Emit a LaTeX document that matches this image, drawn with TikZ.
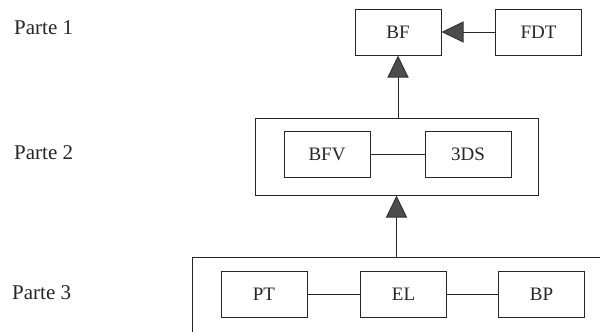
\documentclass[tikz,border=0pt]{standalone}
\usepackage{fontspec}
\setmainfont{Liberation Serif}
\usetikzlibrary{arrows.meta}
\begin{document}
\begin{tikzpicture}[x=1pt,y=-1pt,
  box/.style={draw=black!85, line width=1pt, minimum width=86pt, minimum height=46pt, inner sep=0pt, font=\fontsize{19}{19}\selectfont, text=black!85},
  frame/.style={draw=black!85, line width=1pt},
  link/.style={draw=black!85, line width=1pt},
  arr/.style={link, -{Triangle[length=22pt,width=21pt,fill=black!70,color=black!80]}},
  lab/.style={anchor=west, inner sep=0pt, font=\fontsize{21}{21}\selectfont, text=black!85}]
\useasboundingbox (0,0) rectangle (600,332);
% labels
\node[lab] (p1) at (14,28) {Parte 1};
\node[lab] (p2) at (14,153) {Parte 2};
\node[lab] (p3) at (12,293) {Parte 3};
% part 1
\node[box] (bf) at (398,32) {BF};
\node[box] (fdt) at (538.5,32) {FDT};
% part 2
\node[frame, minimum width=283pt, minimum height=77pt, inner sep=0pt] (g2) at (396.5,156.5) {};
\node[box] (bfv) at (327,154.5) {BFV};
\node[box] (tds) at (468,154.5) {3DS};
% part 3
\begin{scope}
\clip (0,0) rectangle (600,332);
\node[frame, minimum width=440pt, minimum height=120pt, inner sep=0pt, anchor=north west] (g3) at (192,257) {};
\end{scope}
\node[box] (pt) at (264,294) {PT};
\node[box] (el) at (403.5,294) {EL};
\node[box] (bp) at (541.5,294) {BP};
% connectors
\draw[arr] (fdt.west) -- (bf.east);
\draw[arr] (g2.north -| bf.south) -- (bf.south);
\draw[arr] (g3.north -| g2.south) -- (g2.south);
\draw[link] (bfv.east) -- (tds.west);
\draw[link] (pt.east) -- (el.west);
\draw[link] (el.east) -- (bp.west);
\end{tikzpicture}
\end{document}
